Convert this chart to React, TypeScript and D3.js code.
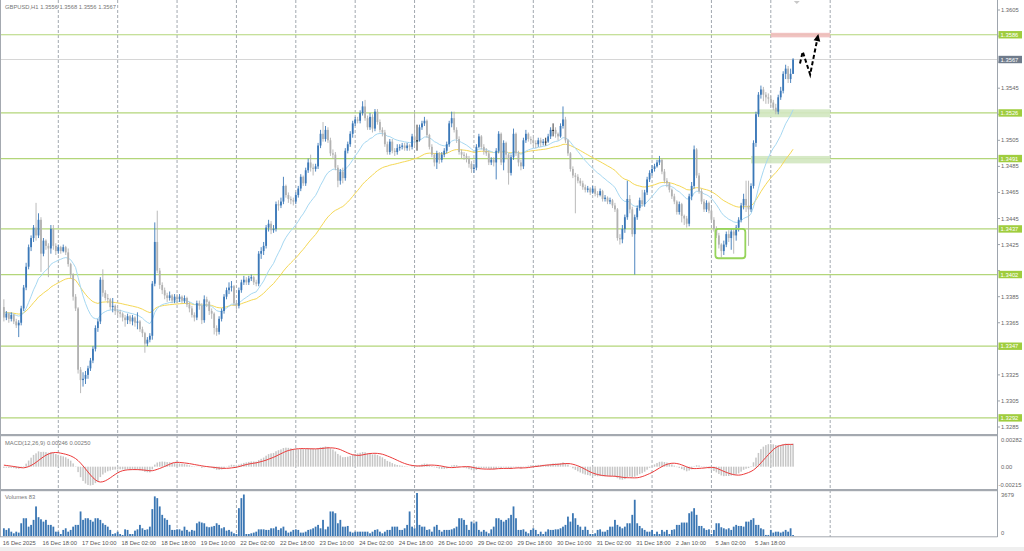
import React from 'react';
import * as d3 from 'd3';

// ---------- data (prices in pips: 3369 => 1.3369) ----------
const SYMBOL = 'GBPUSD,H1';
const HEADER_OHLC = ['1.3556', '1.3568', '1.3556', '1.3567'];
const FIRST_OPEN = 3377;

const CLOSE = [
  3369, 3372, 3368, 3371, 3366, 3363, 3365, 3376, 3392, 3408,
  3423, 3430, 3438, 3432, 3444, 3418, 3428, 3424, 3422, 3437,
  3424, 3420, 3423, 3420, 3423, 3419, 3410, 3402, 3385, 3376,
  3329, 3321, 3322, 3325, 3330, 3336, 3345, 3361, 3366, 3398,
  3388, 3384, 3383, 3377, 3378, 3374, 3373, 3372, 3369, 3367,
  3370, 3366, 3369, 3365, 3366, 3360, 3357, 3349, 3352, 3355,
  3395, 3427, 3405, 3394, 3390, 3386, 3384, 3386, 3382, 3385,
  3383, 3385, 3382, 3384, 3379, 3376, 3371, 3369, 3380, 3378,
  3367, 3383, 3381, 3374, 3372, 3361, 3358, 3368, 3374, 3385,
  3390, 3392, 3393, 3380, 3378, 3390, 3396, 3398, 3396, 3399,
  3400, 3396, 3395, 3418, 3420, 3424, 3438, 3441, 3436, 3437,
  3456, 3455, 3458, 3470, 3463, 3460, 3459, 3458, 3463, 3468,
  3477, 3472, 3482, 3488, 3484, 3483, 3485, 3501, 3510, 3506,
  3513, 3505, 3495, 3494, 3484, 3474, 3481, 3476, 3497, 3502,
  3510, 3518, 3521, 3520, 3526, 3531, 3522, 3515, 3523, 3514,
  3527, 3519, 3513, 3511, 3502, 3496, 3504, 3497, 3496, 3499,
  3500, 3501, 3499, 3501, 3500, 3508, 3505, 3505, 3515, 3518,
  3520, 3509, 3500, 3494, 3488, 3495, 3490, 3494, 3497, 3502,
  3518, 3522, 3513, 3506, 3496, 3494, 3493, 3491, 3487, 3483,
  3484, 3500, 3508, 3500, 3497, 3495, 3488, 3490, 3488, 3497,
  3510, 3488, 3503, 3494, 3480, 3492, 3510, 3495, 3488, 3485,
  3505, 3510, 3506, 3505, 3503, 3502, 3505, 3503, 3504, 3504,
  3508, 3513, 3513, 3510, 3508, 3516, 3521, 3505, 3495, 3483,
  3478, 3477, 3474, 3472, 3469, 3467, 3468, 3465, 3468, 3464,
  3463, 3466, 3460, 3461, 3458, 3459, 3455, 3452, 3430, 3429,
  3437, 3446, 3460, 3452, 3433, 3446, 3453, 3459, 3456, 3465,
  3475, 3480, 3483, 3485, 3488, 3490, 3481, 3474, 3472, 3467,
  3462, 3458, 3450, 3456, 3447, 3445, 3441, 3462, 3470, 3498,
  3478, 3466, 3458, 3452, 3457, 3451, 3444, 3437, 3432, 3425,
  3420, 3425, 3433, 3430, 3435, 3432, 3438, 3444, 3455, 3460,
  3455, 3452, 3470, 3503, 3525, 3540, 3544, 3540, 3538, 3537,
  3534, 3530, 3527, 3538, 3543, 3556, 3560, 3552, 3556, 3567,
];

const HIGH = [
  3383, 3374, 3373, 3373, 3372, 3368, 3367, 3378, 3394, 3411,
  3425, 3432, 3440, 3457, 3449, 3446, 3430, 3429, 3426, 3440,
  3440, 3426, 3425, 3424, 3425, 3424, 3422, 3411, 3403, 3387,
  3377, 3331, 3327, 3328, 3332, 3338, 3347, 3363, 3368, 3400,
  3406, 3390, 3387, 3384, 3384, 3379, 3376, 3375, 3373, 3371,
  3372, 3371, 3371, 3370, 3373, 3367, 3362, 3358, 3354, 3357,
  3397, 3442, 3451, 3407, 3396, 3392, 3388, 3389, 3387, 3387,
  3387, 3387, 3386, 3386, 3385, 3381, 3378, 3373, 3382, 3382,
  3380, 3386, 3385, 3382, 3376, 3373, 3363, 3370, 3376, 3387,
  3392, 3396, 3397, 3394, 3382, 3392, 3398, 3401, 3400, 3401,
  3402, 3401, 3398, 3420, 3423, 3427, 3440, 3444, 3443, 3440,
  3458, 3459, 3461, 3477, 3471, 3465, 3462, 3461, 3465, 3470,
  3479, 3478, 3484, 3491, 3494, 3487, 3487, 3503, 3513, 3519,
  3516, 3515, 3507, 3498, 3496, 3486, 3483, 3484, 3499, 3504,
  3512, 3520, 3523, 3523, 3528, 3535, 3536, 3524, 3526, 3525,
  3529, 3529, 3521, 3515, 3513, 3504, 3506, 3506, 3499, 3502,
  3502, 3503, 3503, 3503, 3502, 3510, 3526, 3517, 3517, 3520,
  3523, 3521, 3510, 3502, 3495, 3497, 3496, 3496, 3499, 3504,
  3520, 3527, 3527, 3515, 3508, 3498, 3496, 3495, 3493, 3489,
  3487, 3502, 3510, 3509, 3502, 3499, 3497, 3492, 3492, 3499,
  3512, 3511, 3505, 3504, 3495, 3494, 3514, 3511, 3497, 3490,
  3507, 3513, 3511, 3508, 3507, 3505, 3507, 3507, 3506, 3507,
  3510, 3515, 3518, 3515, 3511, 3518, 3531, 3523, 3506, 3496,
  3485, 3480, 3479, 3476, 3474, 3471, 3470, 3469, 3470, 3470,
  3466, 3468, 3467, 3463, 3462, 3461, 3460, 3457, 3453, 3433,
  3440, 3448, 3474, 3463, 3454, 3448, 3455, 3461, 3467, 3467,
  3477, 3482, 3486, 3487, 3490, 3493, 3491, 3483, 3476, 3473,
  3468, 3464, 3459, 3458, 3457, 3448, 3447, 3464, 3473, 3501,
  3499, 3480, 3468, 3460, 3459, 3458, 3453, 3446, 3439, 3434,
  3426, 3428, 3435, 3436, 3437, 3437, 3440, 3446, 3457, 3464,
  3474, 3474, 3472, 3505, 3527, 3542, 3547, 3546, 3542, 3541,
  3539, 3536, 3533, 3540, 3546, 3558, 3563, 3562, 3560, 3568,
];

const LOW = [
  3366, 3367, 3365, 3366, 3364, 3361, 3354, 3363, 3374, 3390,
  3406, 3420, 3427, 3428, 3430, 3404, 3416, 3421, 3400, 3418,
  3421, 3417, 3418, 3418, 3419, 3417, 3408, 3399, 3382, 3374,
  3326, 3311, 3316, 3318, 3322, 3328, 3334, 3343, 3358, 3364,
  3385, 3382, 3380, 3375, 3373, 3371, 3370, 3369, 3366, 3362,
  3364, 3364, 3363, 3362, 3360, 3358, 3354, 3342, 3347, 3350,
  3352, 3393, 3403, 3391, 3387, 3383, 3381, 3382, 3380, 3380,
  3380, 3381, 3380, 3380, 3377, 3373, 3369, 3366, 3367, 3375,
  3364, 3365, 3377, 3371, 3368, 3356, 3355, 3356, 3366, 3372,
  3383, 3387, 3389, 3378, 3375, 3376, 3388, 3394, 3394, 3394,
  3397, 3394, 3393, 3393, 3414, 3417, 3422, 3435, 3433, 3434,
  3435, 3451, 3453, 3456, 3461, 3457, 3456, 3455, 3456, 3461,
  3466, 3470, 3470, 3480, 3481, 3478, 3481, 3483, 3499, 3504,
  3504, 3503, 3493, 3491, 3482, 3469, 3471, 3472, 3474, 3495,
  3500, 3507, 3516, 3518, 3518, 3524, 3520, 3513, 3513, 3511,
  3512, 3517, 3511, 3508, 3500, 3494, 3494, 3495, 3493, 3494,
  3497, 3498, 3497, 3497, 3497, 3498, 3500, 3497, 3504, 3513,
  3516, 3507, 3498, 3492, 3485, 3483, 3487, 3488, 3492, 3495,
  3500, 3515, 3511, 3503, 3494, 3491, 3490, 3488, 3484, 3480,
  3480, 3482, 3499, 3498, 3494, 3493, 3486, 3486, 3485, 3475,
  3495, 3486, 3482, 3491, 3471, 3478, 3490, 3493, 3485, 3482,
  3483, 3503, 3504, 3502, 3501, 3499, 3500, 3500, 3501, 3501,
  3503, 3506, 3508, 3507, 3505, 3507, 3514, 3503, 3493, 3481,
  3476, 3449, 3472, 3470, 3467, 3465, 3465, 3463, 3464, 3462,
  3461, 3462, 3458, 3458, 3456, 3456, 3453, 3450, 3428, 3425,
  3426, 3434, 3444, 3449, 3431, 3402, 3444, 3451, 3454, 3454,
  3463, 3473, 3478, 3481, 3484, 3486, 3479, 3472, 3469, 3465,
  3460, 3456, 3448, 3448, 3442, 3440, 3438, 3439, 3459, 3468,
  3476, 3464, 3456, 3450, 3450, 3449, 3442, 3435, 3430, 3422,
  3415, 3417, 3423, 3427, 3421, 3418, 3428, 3435, 3442, 3452,
  3450, 3424, 3450, 3468, 3500, 3523, 3537, 3535, 3533, 3533,
  3531, 3528, 3525, 3525, 3536, 3541, 3552, 3549, 3549, 3556,
];

const VOLUME = [
  660, 520, 660, 370, 230, 370, 290, 1090, 1520, 1520,
  800, 950, 1380, 2530, 1610, 1430, 1230, 1380, 950, 950,
  800, 370, 370, 170, 520, 660, 370, 520, 800, 950,
  950, 2100, 1380, 1520, 1520, 1380, 1230, 1520, 1520, 1380,
  1090, 950, 800, 520, 170, 230, 370, 170, 90, 570,
  520, 170, 170, 460, 570, 950, 660, 520, 570, 800,
  2300, 3390, 3240, 2530, 1810, 1520, 1380, 950, 520, 520,
  570, 570, 460, 800, 520, 370, 520, 460, 1090, 1230,
  1150, 1090, 800, 750, 800, 860, 1090, 950, 660, 750,
  460, 520, 370, 230, 170, 2380, 3240, 3550, 170, 170,
  230, 290, 370, 570, 570, 570, 520, 520, 660, 660,
  800, 520, 660, 800, 460, 290, 370, 520, 570, 520,
  290, 290, 370, 520, 570, 660, 800, 950, 660, 1380,
  570, 800, 2100, 2100, 1950, 1090, 1380, 800, 800, 860,
  370, 290, 370, 370, 370, 370, 370, 370, 230, 370,
  520, 570, 370, 230, 370, 520, 520, 800, 800, 800,
  520, 520, 660, 950, 2100, 800, 660, 3679, 950, 800,
  800, 520, 570, 370, 800, 950, 520, 370, 520, 520,
  520, 570, 660, 800, 1520, 1520, 1380, 950, 520, 1230,
  1090, 1230, 520, 370, 520, 370, 230, 570, 800, 1520,
  1520, 1380, 1230, 1380, 1520, 1810, 2530, 1520, 520, 520,
  570, 370, 230, 520, 660, 520, 170, 370, 170, 370,
  570, 520, 520, 570, 570, 660, 800, 950, 1660, 1230,
  1950, 1520, 950, 800, 520, 800, 520, 170, 170, 230,
  520, 570, 370, 370, 520, 800, 800, 1380, 950, 800,
  660, 800, 1090, 1090, 1810, 3100, 1090, 860, 660, 520,
  370, 370, 520, 170, 370, 170, 520, 370, 520, 170,
  520, 570, 950, 950, 1150, 1150, 1150, 1950, 2100, 2380,
  1810, 860, 860, 660, 520, 570, 170, 520, 1090, 1090,
  750, 660, 570, 660, 520, 800, 950, 860, 860, 800,
  1230, 1230, 1380, 1520, 950, 950, 660, 570, 90, 90,
  520, 290, 370, 370, 290, 370, 520, 370, 660, 83,
];

const TIME_LABELS = [
  '16 Dec 2025', '16 Dec 18:00', '17 Dec 10:00', '18 Dec 02:00', '18 Dec 18:00',
  '19 Dec 10:00', '22 Dec 02:00', '22 Dec 18:00', '23 Dec 10:00', '24 Dec 02:00',
  '24 Dec 18:00', '26 Dec 10:00', '29 Dec 02:00', '29 Dec 18:00', '30 Dec 10:00',
  '31 Dec 02:00', '31 Dec 18:00', '2 Jan 10:00', '5 Jan 02:00', '5 Jan 18:00',
];
const TIME_LABEL_BARS = [0, 16, 32, 48, 64, 80, 96, 112, 128, 144, 160, 176, 192, 208, 224, 240, 256, 272, 288, 304];
const DAY_START_BARS = [22, 46, 70, 94, 118, 142, 166, 190, 214, 238, 262, 286, 310, 334];

const PRICE_TICKS = [3605, 3585, 3565, 3545, 3525, 3505, 3485, 3465, 3445, 3425, 3405, 3385, 3365, 3345, 3325, 3305, 3285];
const LEVELS = [3586, 3526, 3491, 3437, 3402, 3347, 3292];
const CURRENT_PRICE = 3567;

const MA_FAST = 20;
const MA_SLOW = 50;
const MA_START = 3373; // both averages at first bar
const MACD_FAST = 12, MACD_SLOW = 26, MACD_SIG = 9;
const MACD_START = -1; // pips
const MACD_SIGNAL_START = 0.0002;
const MACD_LABEL = 'MACD(12,26,9) 0.00246 0.00250';
const MACD_TICKS = [0.00282, 0, -0.00215];
const MACD_TICK_TEXT = ['0.00282', '0.00', '-0.00215'];
const VOLUME_MAX = 3679;
const VOLUME_LABEL = 'Volumes 83';

// annotations (bar index, price)
const TARGET_ZONE = { from: 310, to: 334, lo: 3584, hi: 3587.5 };
const SUPPORT_ZONES = [
  { from: 305, to: 334, lo: 3522.7, hi: 3528.8 },
  { from: 302, to: 334, lo: 3487.3, hi: 3493 },
];
const BASE_BOX = { from: 287.6, to: 299.7, lo: 3414.5, hi: 3437 };
const PATH_BARS = [321.8, 322.9, 325.9, 329.2];
const PATH_PRICES = [3564, 3573, 3555.5, 3586.5];

// ---------- chart ----------
const W = 1024, H = 551;
const AXIS_X = 997.5;
const FONT = 'Liberation Sans, Arial, sans-serif';

function fmt(v: number) {
  return (1 + v / 10000).toFixed(4);
}

function ema(values: number[], period: number, seed: number) {
  const k = 2 / (period + 1);
  let e = seed;
  return values.map((v) => (e = e + k * (v - e)));
}

export default function App() {
  const n = CLOSE.length;
  const x = d3.scaleLinear().domain([0, 334]).range([3.87, 3.87 + 334 * 2.474]);
  const y = d3.scaleLinear().domain([3605, 3285]).range([10, 427]);
  const ym = d3.scaleLinear().domain([0.00282, -0.00215]).range([440.3, 486.8]);
  const yv = d3.scaleLinear().domain([0, VOLUME_MAX]).range([536, 493]);

  const open = CLOSE.map((c, i) => (i === 0 ? FIRST_OPEN : CLOSE[i - 1]));
  const maFast = ema(CLOSE, MA_FAST, MA_START);
  const maSlow = ema(CLOSE, MA_SLOW, MA_START);
  const e12 = ema(CLOSE, MACD_FAST, MA_START + MACD_START);
  const e26 = ema(CLOSE, MACD_SLOW, MA_START);
  const macd = e12.map((v, i) => (v - e26[i]) / 10000);
  const signal = macd.map((_, i) => {
    let s = 0;
    for (let j = i - MACD_SIG + 1; j <= i; j++) s += j < 0 ? MACD_SIGNAL_START : macd[j];
    return s / MACD_SIG;
  });

  const line = d3.line<number>().x((_, i) => x(i)).y((v) => y(v));
  const sigLine = d3.line<number>().x((_, i) => x(i)).y((v) => ym(v));

  const idx = d3.range(n);
  const up = '#3b78b8';
  const down = '#b2b2b2';

  // price ticks hidden behind the coloured labels
  const boxed = [...LEVELS, CURRENT_PRICE];
  const visibleTicks = PRICE_TICKS.filter((v) => boxed.every((b) => Math.abs(y(v) - y(b)) > 6));

  // arrow
  const pts = PATH_BARS.map((b, i) => [x(b), y(PATH_PRICES[i])] as [number, number]);
  const [ax, ay] = pts[pts.length - 1];
  const [bx, by] = pts[pts.length - 2];
  const ang = Math.atan2(ay - by, ax - bx);
  const hl = 7, hw = 3.4;
  const head = [
    [ax, ay],
    [ax - hl * Math.cos(ang) + hw * Math.sin(ang), ay - hl * Math.sin(ang) - hw * Math.cos(ang)],
    [ax - hl * Math.cos(ang) - hw * Math.sin(ang), ay - hl * Math.sin(ang) + hw * Math.cos(ang)],
  ];
  const shaftEnd: [number, number] = [ax - hl * 0.8 * Math.cos(ang), ay - hl * 0.8 * Math.sin(ang)];
  const arrowPts = [...pts.slice(0, -1), shaftEnd];

  const txt = { fontFamily: FONT, fontSize: 5.8 } as const;

  return (
    <svg
      width={W}
      height={H}
      viewBox={`0 0 ${W} ${H}`}
      style={{ position: 'fixed', left: 0, top: 0, background: '#fff' }}
    >
      <rect x={0} y={0} width={W} height={H} fill="#fff" />

      {/* vertical grid */}
      {DAY_START_BARS.map((b) => (
        <line key={b} x1={x(b)} x2={x(b)} y1={0} y2={537} stroke="#a2a8b0" strokeWidth={1} strokeDasharray="3,2" />
      ))}

      {/* current price line */}
      <line x1={0} x2={AXIS_X} y1={y(CURRENT_PRICE)} y2={y(CURRENT_PRICE)} stroke="#d6d6d6" strokeWidth={1} />

      {/* levels */}
      {LEVELS.map((v) => (
        <line key={v} x1={0} x2={AXIS_X} y1={y(v)} y2={y(v)} stroke="#b3d67a" strokeWidth={1.2} />
      ))}

      {/* annotation zones */}
      <rect x={x(TARGET_ZONE.from)} width={x(TARGET_ZONE.to) - x(TARGET_ZONE.from)} y={y(TARGET_ZONE.hi)} height={y(TARGET_ZONE.lo) - y(TARGET_ZONE.hi)} fill="#efbcbc" opacity={0.9} />
      {SUPPORT_ZONES.map((z, i) => (
        <rect key={i} x={x(z.from)} width={x(z.to) - x(z.from)} y={y(z.hi)} height={y(z.lo) - y(z.hi)} fill="#d2e7c0" opacity={0.9} />
      ))}

      {/* moving averages */}
      <path d={line(maSlow) || ''} fill="none" stroke="#f5d855" strokeWidth={1} />
      <path d={line(maFast) || ''} fill="none" stroke="#a6d8f2" strokeWidth={1} />

      {/* candles */}
      {idx.map((i) => {
        const o = open[i], c = CLOSE[i];
        const hi = Math.max(HIGH[i], o, c), lo = Math.min(LOW[i], o, c);
        const col = c > o ? up : c < o ? down : '#222';
        const top = y(Math.max(o, c));
        const bh = Math.max(1, y(Math.min(o, c)) - top);
        const cx = x(i);
        return (
          <g key={i}>
            <line x1={cx} x2={cx} y1={y(hi)} y2={y(lo)} stroke={col} strokeWidth={0.9} />
            <rect x={cx - 0.9} y={top} width={1.8} height={bh} fill={col} />
          </g>
        );
      })}

      {/* base box */}
      <rect x={x(BASE_BOX.from)} y={y(BASE_BOX.hi)} width={x(BASE_BOX.to) - x(BASE_BOX.from)} height={y(BASE_BOX.lo) - y(BASE_BOX.hi)} rx={3} fill="none" stroke="#96d45a" strokeWidth={1.8} />

      {/* projected path */}
      <path d={d3.line()(arrowPts) || ''} fill="none" stroke="#000" strokeWidth={2} strokeDasharray="4,2.5" />
      <polygon points={head.map((p) => p.join(',')).join(' ')} fill="#000" />

      {/* header */}
      <text x={5} y={9} {...txt} fill="#777">{SYMBOL}  {HEADER_OHLC.join(' ')}</text>

      {/* MACD panel */}
      {idx.map((i) => (
        <rect key={i} x={x(i) - 0.75} width={1.5} y={Math.min(ym(macd[i]), ym(0))} height={Math.abs(ym(macd[i]) - ym(0))} fill="#c6c6c6" />
      ))}
      <path d={sigLine(signal) || ''} fill="none" stroke="#ec3a3a" strokeWidth={1} />
      <text x={5} y={444.5} {...txt} fill="#777">{MACD_LABEL}</text>

      {/* volume panel */}
      {idx.map((i) => (
        <rect key={i} x={x(i) - 0.9} width={1.8} y={yv(VOLUME[i])} height={yv(0) - yv(VOLUME[i])} fill="#3a76b3" />
      ))}
      <text x={5} y={498.5} {...txt} fill="#777">{VOLUME_LABEL}</text>

      {/* frames */}
      <rect x={0} y={434} width={AXIS_X} height={2.2} fill="#a4a9b0" />
      <rect x={0} y={489} width={AXIS_X} height={2.2} fill="#a4a9b0" />
      <line x1={0} x2={AXIS_X} y1={536.8} y2={536.8} stroke="#a4a9b0" strokeWidth={1} />
      <line x1={0.5} x2={0.5} y1={0} y2={537} stroke="#a4a9b0" strokeWidth={1} />
      <line x1={AXIS_X} x2={AXIS_X} y1={0} y2={537} stroke="#9ea5ad" strokeWidth={1} />
      <rect x={0} y={547} width={W} height={4} fill="#efefef" />

      {/* price axis */}
      {PRICE_TICKS.map((v) => (
        <line key={v} x1={AXIS_X} x2={AXIS_X + 2.5} y1={y(v)} y2={y(v)} stroke="#9ea5ad" />
      ))}
      {visibleTicks.map((v) => (
        <text key={v} x={1001} y={y(v) + 2} {...txt} fill="#666">{fmt(v)}</text>
      ))}
      {LEVELS.map((v) => (
        <g key={v}>
          <rect x={998.5} y={y(v) - 3.7} width={23.5} height={7.4} fill="#9fcd3e" />
          <text x={1000.6} y={y(v) + 2} {...txt} fill="#fff">{fmt(v)}</text>
        </g>
      ))}
      <rect x={998.5} y={y(CURRENT_PRICE) - 3.7} width={23.5} height={7.4} fill="#6f7b8b" />
      <text x={1000.6} y={y(CURRENT_PRICE) + 2} {...txt} fill="#fff">{fmt(CURRENT_PRICE)}</text>

      {/* MACD axis */}
      {MACD_TICKS.map((v, i) => (
        <text key={i} x={i === 2 ? 998.5 : 1001} y={Math.min(ym(v), 485) + 2} {...txt} fill="#666">{MACD_TICK_TEXT[i]}</text>
      ))}
      {/* volume axis */}
      <text x={1001} y={yv(VOLUME_MAX) + 3.5} {...txt} fill="#666">{VOLUME_MAX}</text>
      <text x={1001} y={yv(0) - 1.5} {...txt} fill="#666">0</text>

      {/* time axis */}
      {TIME_LABEL_BARS.map((b, i) => (
        <text key={b} x={x(b) - 1} y={545} {...txt} fill="#555">{TIME_LABELS[i]}</text>
      ))}

      {/* chart shift marker */}
      <polygon points={`${x(320.5) - 3},1 ${x(320.5) + 3},1 ${x(320.5)},4`} fill="#c8c8c8" />
    </svg>
  );
}
